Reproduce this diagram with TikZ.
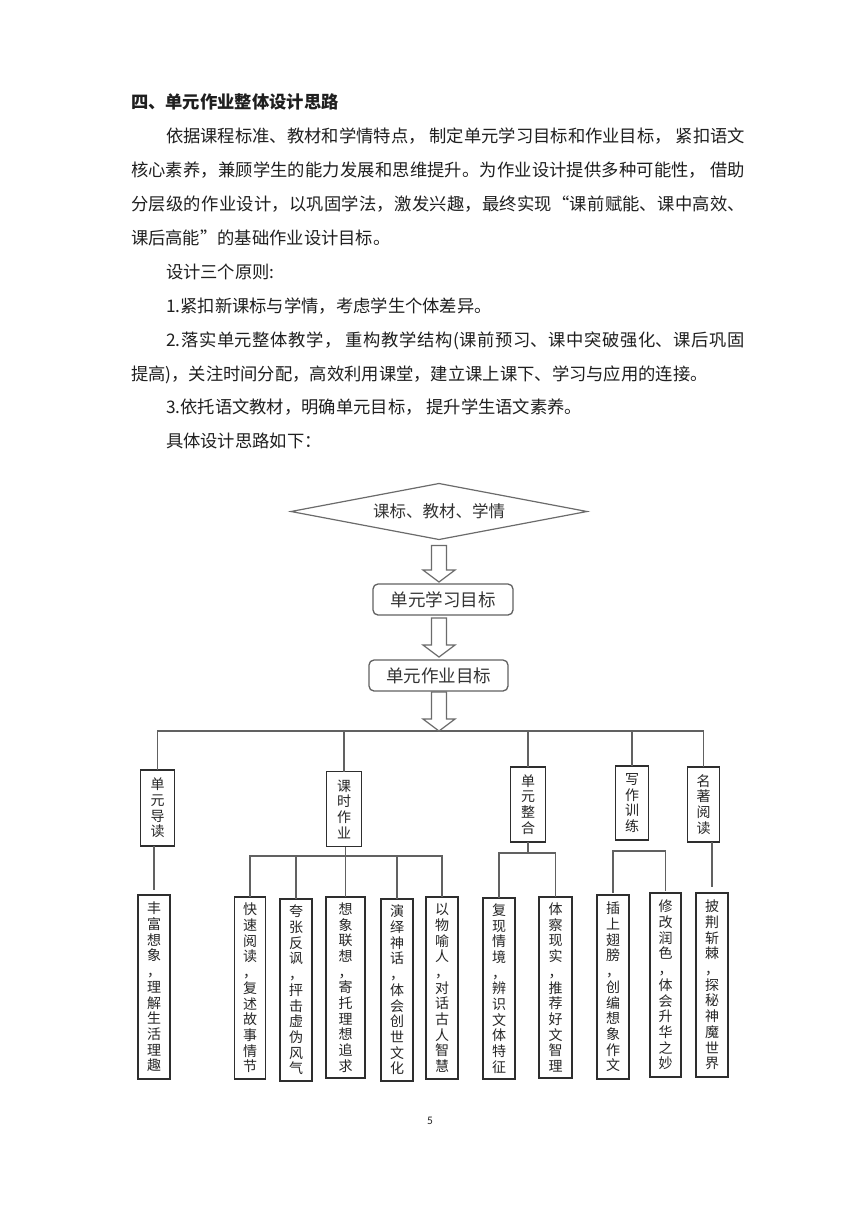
\documentclass[tikz,border=0pt]{standalone}
\usepackage{fontspec}
\newfontfamily\cjk{Noto Sans CJK SC}
\newfontfamily\pnum{Carlito}
\usetikzlibrary{shapes.geometric,calc}
\XeTeXlinebreaklocale "zh"
\XeTeXlinebreakskip=0pt plus 3pt
\newcommand\jline[4]{\node[body] (#1) at (#2) {\parbox[b]{#3}{\parfillskip=0pt\relax #4}};}
\newcommand\harr[2]{\path (#1) coordinate (hs) (#2) coordinate (ht);
  \draw[harrow] ($(ht |- hs)+(-7.5,0)$) -- ($(ht)+(-7.5,-12)$) -- ($(ht)+(-16,-12)$) -- (ht)
   -- ($(ht)+(16,-12)$) -- ($(ht)+(7.5,-12)$) -- ($(ht |- hs)+(7.5,0)$) -- cycle;}
\begin{document}
\begin{tikzpicture}[x=1pt,y=-1pt,
 every node/.style={inner sep=0pt, outer sep=0pt},
 body/.style={anchor=base west, font=\cjk\fontsize{17.3}{20}\selectfont, text=black!88},
 conn/.style={draw=black!62, line width=1.4pt},
 vbox/.style={draw=black!82, line width=1.3pt, fill=white, anchor=north, align=center,
   text width=15pt, minimum width=32pt, font=\cjk\fontsize{14}{15.7}\selectfont, text=black!85},
 gbox/.style={draw=black!62, line width=1.3pt, rounded corners=5pt, minimum width=140pt,
   minimum height=31pt, font=\cjk\fontsize{17.5}{20}\selectfont, text=black!80},
 harrow/.style={draw=black!58, line width=1.2pt, fill=white, line join=miter},
]
\fill[white] (0,0) rectangle (860,1216);
\useasboundingbox (0,0) rectangle (860,1216);

% ---------- text ----------
\node[body, font=\cjk\bfseries\fontsize{17.3}{20}\selectfont] (h) at (131,108.6) {四、单元作业整体设计思路};
\jline{t1}{166,142.6}{579pt}{依据课程标准、教材和学情特点， 制定单元学习目标和作业目标， 紧扣语文}
\jline{t2}{131,176.6}{614pt}{核心素养，兼顾学生的能力发展和思维提升。为作业设计提供多种可能性， 借助}
\jline{t3}{131,210.6}{614pt}{分层级的作业设计，以巩固学法，激发兴趣，最终实现“课前赋能、课中高效、}
\node[body] (t4) at (131,244.6) {课后高能”的基础作业设计目标。};
\node[body] (t5) at (166,278.6) {设计三个原则:};
\node[body] (t6) at (166,312.6) {1.紧扣新课标与学情，考虑学生个体差异。};
\jline{t7}{166,346.6}{579pt}{2.落实单元整体教学， 重构教学结构(课前预习、课中突破强化、课后巩固}
\node[body] (t8) at (131,380.6) {提高)，关注时间分配，高效利用课堂，建立课上课下、学习与应用的连接。};
\node[body] (t9) at (166,413.6) {3.依托语文教材，明确单元目标， 提升学生语文素养。};
\node[body] (t10) at (166,447.6) {具体设计思路如下：};

% ---------- top of diagram ----------
\node[diamond, aspect=5.3, minimum width=296pt, minimum height=56pt, draw=black!58, line width=1.2pt,
  font=\cjk\fontsize{16.5}{18}\selectfont, text=black!80] (d) at (439,511.5) {课标、教材、学情};
\node[gbox] (g1) at (443,599.5) {单元学习目标};
\node[gbox, minimum width=139pt] (g2) at (438.5,675.5) {单元作业目标};
\coordinate (bar) at (439,731);

% ---------- level 1 boxes ----------
\node[vbox, minimum width=34pt, minimum height=76pt] (dd) at (157.5,770) {单\\元\\导\\读};
\node[vbox, minimum width=35pt, minimum height=75pt] (ks) at (344,771.5) {课\\时\\作\\业};
\node[vbox, minimum width=35pt, minimum height=75pt] (zh) at (528,767) {单\\元\\整\\合};
\node[vbox, minimum width=33pt, minimum height=74pt] (xz) at (632,766) {写\\作\\训\\练};
\node[vbox, minimum width=32pt, minimum height=75pt] (mz) at (703.5,767) {名\\著\\阅\\读};

\draw[conn] (dd.north) |- (bar) -| (mz.north);
\draw[conn] (ks.north) -- (ks.north |- bar);
\draw[conn] (zh.north) -- (zh.north |- bar);
\draw[conn] (xz.north) -- (xz.north |- bar);

\harr{$(d.south)+(0,6)$}{$(d.south |- g1.north)+(0,-2)$}
\harr{$(g1.south)+(0,3)$}{$(d.south |- g2.north)+(0,-3)$}
\harr{$(g2.south)+(0,1)$}{bar}

% ---------- level 2 boxes ----------
\node[vbox, minimum height=184pt] (b1) at (154,895) {丰\\富\\想\\象\\，\\理\\解\\生\\活\\理\\趣};
\node[vbox, minimum width=31pt, minimum height=182pt] (b2) at (250,897) {快\\速\\阅\\读\\，\\复\\述\\故\\事\\情\\节};
\node[vbox, minimum height=182pt] (b3) at (296,899) {夸\\张\\反\\讽\\，\\抨\\击\\虚\\伪\\风\\气};
\node[vbox, minimum width=39pt, minimum height=181pt] (b4) at (345.5,897) {想\\象\\联\\想\\，\\寄\\托\\理\\想\\追\\求};
\node[vbox, minimum height=182pt] (b5) at (397,899) {演\\绎\\神\\话\\，\\体\\会\\创\\世\\文\\化};
\node[vbox, minimum height=182pt] (b6) at (442,897) {以\\物\\喻\\人\\，\\对\\话\\古\\人\\智\\慧};
\node[vbox, minimum height=181pt] (b7) at (499,898) {复\\现\\情\\境\\，\\辨\\识\\文\\体\\特\\征};
\node[vbox, minimum width=33pt, minimum height=181pt] (b8) at (555.5,897) {体\\察\\现\\实\\，\\推\\荐\\好\\文\\智\\理};
\node[vbox, minimum height=184pt] (b9) at (613,895) {插\\上\\翅\\膀\\，\\创\\编\\想\\象\\作\\文};
\node[vbox, minimum width=31pt, minimum height=184pt] (b10) at (665.5,893) {修\\改\\润\\色\\，\\体\\会\\升\\华\\之\\妙};
\node[vbox, minimum height=184pt] (b11) at (712,893) {披\\荆\\斩\\棘\\，\\探\\秘\\神\\魔\\世\\界};

\coordinate (kb) at (345,856);
\coordinate (zb) at (528,853);
\coordinate (xb) at (632,851);

\draw[conn] (b1.north |- dd.south) -- ($(b1.north)+(0,-5)$);
\draw[conn] (b4.north |- ks.south) -- (b4.north);
\draw[conn] (b2.north) |- (kb) -| (b6.north);
\draw[conn] (b3.north) -- (b3.north |- kb);
\draw[conn] (b5.north) -- (b5.north |- kb);
\draw[conn] (zh.south) -- (zh.south |- zb);
\draw[conn] (b7.north) |- (zb) -| (b8.north);
\draw[conn] ($(b9.north)+(0,-2)$) |- (xb) -| ($(b10.north)+(0,-2)$);
\draw[conn] (b11.north |- mz.south) -- ($(b11.north)+(0,-6)$);

\node[font=\pnum\fontsize{11.5}{12}\selectfont, text=black!85] (pn) at (430,1121) {5};
\end{tikzpicture}
\end{document}
